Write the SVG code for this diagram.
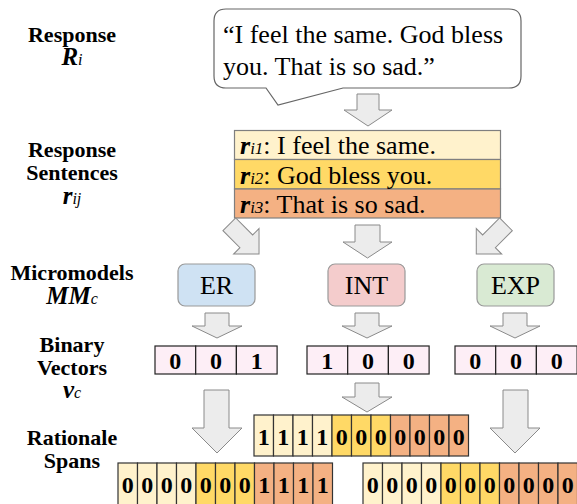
<svg xmlns="http://www.w3.org/2000/svg" width="577" height="504" viewBox="0 0 577 504">
<style>
.lbl{font-family:"Liberation Serif","Times New Roman",serif;font-weight:bold;font-size:22px;fill:#000;text-anchor:middle}
.lbi{font-family:"Liberation Serif","Times New Roman",serif;font-weight:bold;font-style:italic;font-size:25px;fill:#000;text-anchor:middle}
.sub{font-weight:normal;font-style:italic;font-size:16px}
.txt{font-family:"Liberation Serif","Times New Roman",serif;font-size:26px;fill:#000}
.arrow{fill:#ececec;stroke:#8a8a8a;stroke-width:1}
.row{stroke:#7f7f7f;stroke-width:1.2}
.c1{fill:#fff2cc}.c2{fill:#ffd966}.c3{fill:#f4b183}
.cell{stroke:#333;stroke-width:1.2}
.bin{fill:#fdeef6;stroke:#222;stroke-width:1.2}
.dig{font-family:"Liberation Serif","Times New Roman",serif;font-weight:bold;font-size:24px;fill:#000;text-anchor:middle}
.mm{stroke:#999;stroke-width:1.2}
.mt{font-family:"Liberation Serif","Times New Roman",serif;font-size:26px;fill:#000;text-anchor:middle}
</style>
<defs>
<path id="diag" d="M -9 -24 H 9 V 0 H 18 L 0 18 L -18 0 H -9 Z"/>
</defs>

<g id="labels">
<text class="lbl" x="72" y="42">Response</text>
<text class="lbi" x="72" y="65">R<tspan class="sub">i</tspan></text>
<text class="lbl" x="72" y="157">Response</text>
<text class="lbl" x="72" y="180">Sentences</text>
<text class="lbi" x="72" y="204">r<tspan class="sub">ij</tspan></text>
<text class="lbl" x="72" y="280">Micromodels</text>
<text class="lbi" x="72" y="304">MM<tspan class="sub">c</tspan></text>
<text class="lbl" x="72" y="352">Binary</text>
<text class="lbl" x="72" y="375">Vectors</text>
<text class="lbi" x="72" y="398">v<tspan class="sub">c</tspan></text>
<text class="lbl" x="72" y="445">Rationale</text>
<text class="lbl" x="72" y="468">Spans</text>
</g>

<g id="response">
<path d="M 226 9 H 509 Q 521 9 521 21 V 76 Q 521 88 509 88 H 343 L 278 105 L 266 88 H 226 Q 214 88 214 76 V 21 Q 214 9 226 9 Z" fill="#fff" stroke="#666" stroke-width="1.2"/>
<text class="txt" x="223" y="43">“I feel the same. God bless</text>
<text class="txt" x="223" y="75">you. That is so sad.”</text>
</g>

<g id="sentences">
<rect class="row c1" x="234.5" y="130.5" width="266" height="29"/>
<rect class="row c2" x="234.5" y="159.5" width="266" height="29.5"/>
<rect class="row c3" x="234.5" y="189" width="266" height="29"/>
<text class="txt" x="240" y="154"><tspan font-weight="bold" font-style="italic">r</tspan><tspan font-style="italic" font-size="17px">i1</tspan>: I feel the same.</text>
<text class="txt" x="240" y="184"><tspan font-weight="bold" font-style="italic">r</tspan><tspan font-style="italic" font-size="17px">i2</tspan>: God bless you.</text>
<text class="txt" x="240" y="213"><tspan font-weight="bold" font-style="italic">r</tspan><tspan font-style="italic" font-size="17px">i3</tspan>: That is so sad.</text>
</g>

<g id="mm-er">
<rect class="mm" x="178" y="264" width="77" height="42" rx="7" fill="#cfe2f3"/>
<text class="mt" x="216.5" y="294">ER</text>
</g>
<g id="mm-int">
<rect class="mm" x="328" y="264" width="77" height="42" rx="7" fill="#f4cccc"/>
<text class="mt" x="366.5" y="294">INT</text>
</g>
<g id="mm-exp">
<rect class="mm" x="477" y="264" width="77" height="42" rx="7" fill="#d9ead3"/>
<text class="mt" x="515.5" y="294">EXP</text>
</g>

<g id="vec-er">
<rect class="bin" x="155" y="346" width="40.7" height="28"/>
<rect class="bin" x="195.7" y="346" width="40.7" height="28"/>
<rect class="bin" x="236.4" y="346" width="40.7" height="28"/>
<text class="dig" x="175.3" y="369">0</text>
<text class="dig" x="216" y="369">0</text>
<text class="dig" x="256.7" y="369">1</text>
</g>
<g id="vec-int">
<rect class="bin" x="307" y="346" width="40.7" height="28"/>
<rect class="bin" x="347.7" y="346" width="40.7" height="28"/>
<rect class="bin" x="388.4" y="346" width="40.7" height="28"/>
<text class="dig" x="327.3" y="369">1</text>
<text class="dig" x="368" y="369">0</text>
<text class="dig" x="408.7" y="369">0</text>
</g>
<g id="vec-exp">
<rect class="bin" x="455" y="346" width="40.7" height="28"/>
<rect class="bin" x="495.7" y="346" width="40.7" height="28"/>
<rect class="bin" x="536.4" y="346" width="40.7" height="28"/>
<text class="dig" x="475.3" y="369">0</text>
<text class="dig" x="516" y="369">0</text>
<text class="dig" x="556.7" y="369">0</text>
</g>

<g id="span-int">
<rect class="cell c1" x="254" y="415" width="19.5" height="41"/>
<rect class="cell c1" x="273.5" y="415" width="19.5" height="41"/>
<rect class="cell c1" x="293" y="415" width="19.5" height="41"/>
<rect class="cell c1" x="312.5" y="415" width="19.5" height="41"/>
<rect class="cell c2" x="332" y="415" width="19.5" height="41"/>
<rect class="cell c2" x="351.5" y="415" width="19.5" height="41"/>
<rect class="cell c2" x="371" y="415" width="19.5" height="41"/>
<rect class="cell c3" x="390.5" y="415" width="19.5" height="41"/>
<rect class="cell c3" x="410" y="415" width="19.5" height="41"/>
<rect class="cell c3" x="429.5" y="415" width="19.5" height="41"/>
<rect class="cell c3" x="449" y="415" width="19.5" height="41"/>
<text class="dig" font-size="25px" y="445"><tspan x="263.75">1</tspan><tspan x="283.25">1</tspan><tspan x="302.75">1</tspan><tspan x="322.25">1</tspan><tspan x="341.75">0</tspan><tspan x="361.25">0</tspan><tspan x="380.75">0</tspan><tspan x="400.25">0</tspan><tspan x="419.75">0</tspan><tspan x="439.25">0</tspan><tspan x="458.75">0</tspan></text>
</g>

<g id="span-er">
<rect class="cell c1" x="118" y="463" width="19.5" height="42"/>
<rect class="cell c1" x="137.5" y="463" width="19.5" height="42"/>
<rect class="cell c1" x="157" y="463" width="19.5" height="42"/>
<rect class="cell c1" x="176.5" y="463" width="19.5" height="42"/>
<rect class="cell c2" x="196" y="463" width="19.5" height="42"/>
<rect class="cell c2" x="215.5" y="463" width="19.5" height="42"/>
<rect class="cell c2" x="235" y="463" width="19.5" height="42"/>
<rect class="cell c3" x="254.5" y="463" width="19.5" height="42"/>
<rect class="cell c3" x="274" y="463" width="19.5" height="42"/>
<rect class="cell c3" x="293.5" y="463" width="19.5" height="42"/>
<rect class="cell c3" x="313" y="463" width="19.5" height="42"/>
<text class="dig" font-size="25px" y="493"><tspan x="127.75">0</tspan><tspan x="147.25">0</tspan><tspan x="166.75">0</tspan><tspan x="186.25">0</tspan><tspan x="205.75">0</tspan><tspan x="225.25">0</tspan><tspan x="244.75">0</tspan><tspan x="264.25">1</tspan><tspan x="283.75">1</tspan><tspan x="303.25">1</tspan><tspan x="322.75">1</tspan></text>
</g>

<g id="span-exp">
<rect class="cell c1" x="363" y="463" width="19.5" height="42"/>
<rect class="cell c1" x="382.5" y="463" width="19.5" height="42"/>
<rect class="cell c1" x="402" y="463" width="19.5" height="42"/>
<rect class="cell c1" x="421.5" y="463" width="19.5" height="42"/>
<rect class="cell c2" x="441" y="463" width="19.5" height="42"/>
<rect class="cell c2" x="460.5" y="463" width="19.5" height="42"/>
<rect class="cell c2" x="480" y="463" width="19.5" height="42"/>
<rect class="cell c3" x="499.5" y="463" width="19.5" height="42"/>
<rect class="cell c3" x="519" y="463" width="19.5" height="42"/>
<rect class="cell c3" x="538.5" y="463" width="19.5" height="42"/>
<rect class="cell c3" x="558" y="463" width="19.5" height="42"/>
<text class="dig" font-size="25px" y="493"><tspan x="372.75">0</tspan><tspan x="392.25">0</tspan><tspan x="411.75">0</tspan><tspan x="431.25">0</tspan><tspan x="450.75">0</tspan><tspan x="470.25">0</tspan><tspan x="489.75">0</tspan><tspan x="509.25">0</tspan><tspan x="528.75">0</tspan><tspan x="548.25">0</tspan><tspan x="567.75">0</tspan></text>
</g>

<g id="connectors">
<path class="arrow" d="M 357 94 H 379 V 110 H 392 L 368 126 L 344 110 H 357 Z"/>
<use href="#diag" class="arrow" transform="translate(246.3 241.3) rotate(-45)"/>
<path class="arrow" d="M 355 225 H 380 V 242 H 392 L 367.5 258 L 343 242 H 355 Z"/>
<use href="#diag" class="arrow" transform="translate(489 241.3) rotate(45)"/>
<path class="arrow" d="M 205 313 H 229 V 326 H 242 L 217 338 L 192 326 H 205 Z"/>
<path class="arrow" d="M 355 313 H 379 V 326 H 392 L 367 338 L 342 326 H 355 Z"/>
<path class="arrow" d="M 503 313 H 527 V 326 H 540 L 515 338 L 490 326 H 503 Z"/>
<path class="arrow" d="M 204 390 H 229 V 428 H 242 L 217 453 L 192 428 H 204 Z"/>
<path class="arrow" d="M 355 383 H 379 V 397 H 392 L 367 412 L 342 397 H 355 Z"/>
<path class="arrow" d="M 503 390 H 528 V 428 H 540 L 515 453 L 490 428 H 503 Z"/>
</g>
</svg>
